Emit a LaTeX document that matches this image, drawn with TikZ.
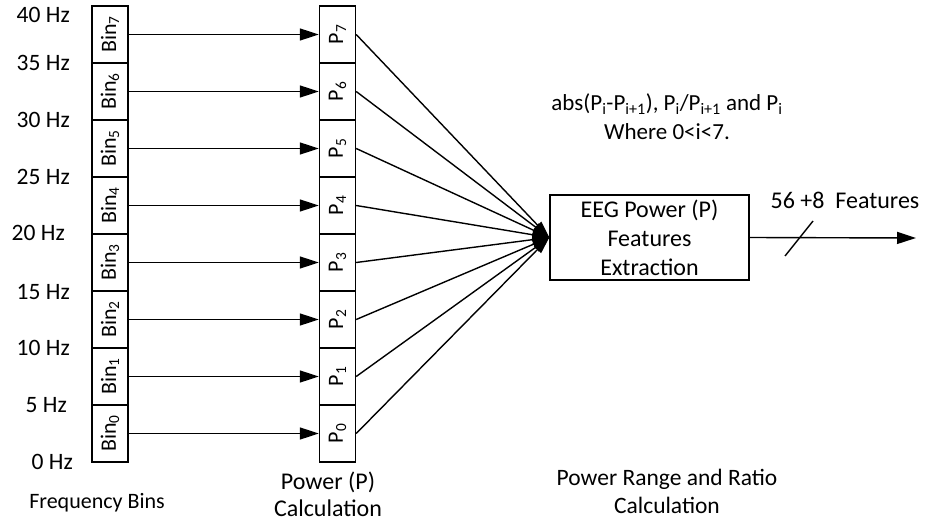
\documentclass[tikz,border=0pt]{standalone}
\usepackage{fontspec}
\setmainfont{Carlito}
\usetikzlibrary{arrows.meta}
\begin{document}
\begin{tikzpicture}[x=1pt,y=-1pt,
  cell/.style={draw, line width=1.4pt, minimum width=36pt, minimum height=57pt, inner sep=0pt,
    align=center, font=\fontsize{22}{26}\selectfont},
  txt/.style={inner sep=0pt, align=center},
  hz/.style={inner sep=0pt, anchor=east, align=right, font=\fontsize{23.5}{27}\selectfont},
  harr/.style={line width=1.4pt, -{Triangle[length=19pt,width=12pt]}},
  carr/.style={line width=1.4pt, -{Triangle[length=17pt,width=10pt]}},
  box/.style={draw, line width=1.4pt, minimum width=199pt, minimum height=85pt, inner sep=0pt,
    align=center, font=\fontsize{24}{29}\selectfont}]
\useasboundingbox (0,0) rectangle (925,521);
% frequency bins and power cells
\foreach \i in {0,...,7}{
  \node[cell] (b\i) at (110,{462-57*(\i+0.5)}) {\rotatebox{90}{Bin\textsubscript{\i}}};
  \node[cell] (p\i) at (337.5,{462-57*(\i+0.5)}) {\rotatebox{90}{P\textsubscript{\i}}};
}
% frequency labels
\node[hz] (h40) at (70,15) {40 Hz};
\node[hz] (h35) at (70,63) {35 Hz};
\node[hz] (h30) at (70,120) {30 Hz};
\node[hz] (h25) at (70,177) {25 Hz};
\node[hz] (h20) at (65,233) {20 Hz};
\node[hz] (h15) at (70,292) {15 Hz};
\node[hz] (h10) at (70,348) {10 Hz};
\node[hz] (h5) at (67,405) {5 Hz};
\node[hz] (h0) at (73,462) {0 Hz};
% EEG box
\node[box] (eeg) at (649.5,237.5) {EEG Power (P)\\Features\\Extraction};
\coordinate (out) at (916,238);
% arrows
\foreach \i in {0,...,7}{
  \draw[harr] (b\i.east) -- (p\i.west);
  \draw[carr] (p\i.east) -- (eeg.west);
}
\draw[harr] (eeg.east) -- (out);
\coordinate (s1) at (785,256);
\coordinate (s2) at (813,221);
\draw[line width=1.4pt] (s1) -- (s2);
% texts
\node[txt, font=\fontsize{24}{28}\selectfont] (feat) at (845,200) {56 +8~ Features};
\node[txt, font=\fontsize{23}{29}\selectfont] (form) at (667,117) {abs(P\textsubscript{i}-P\textsubscript{i+1}), P\textsubscript{i}/P\textsubscript{i+1} and P\textsubscript{i}\\Where 0<i<7.};
\node[txt, font=\fontsize{22}{26}\selectfont] (fb) at (97,503) {Frequency Bins};
\node[txt, font=\fontsize{24}{27}\selectfont] (pc) at (328,494) {Power (P)\\Calculation};
\node[txt, font=\fontsize{23.5}{28}\selectfont] (prc) at (667,491) {Power Range and Ratio\\Calculation};
\end{tikzpicture}
\end{document}
